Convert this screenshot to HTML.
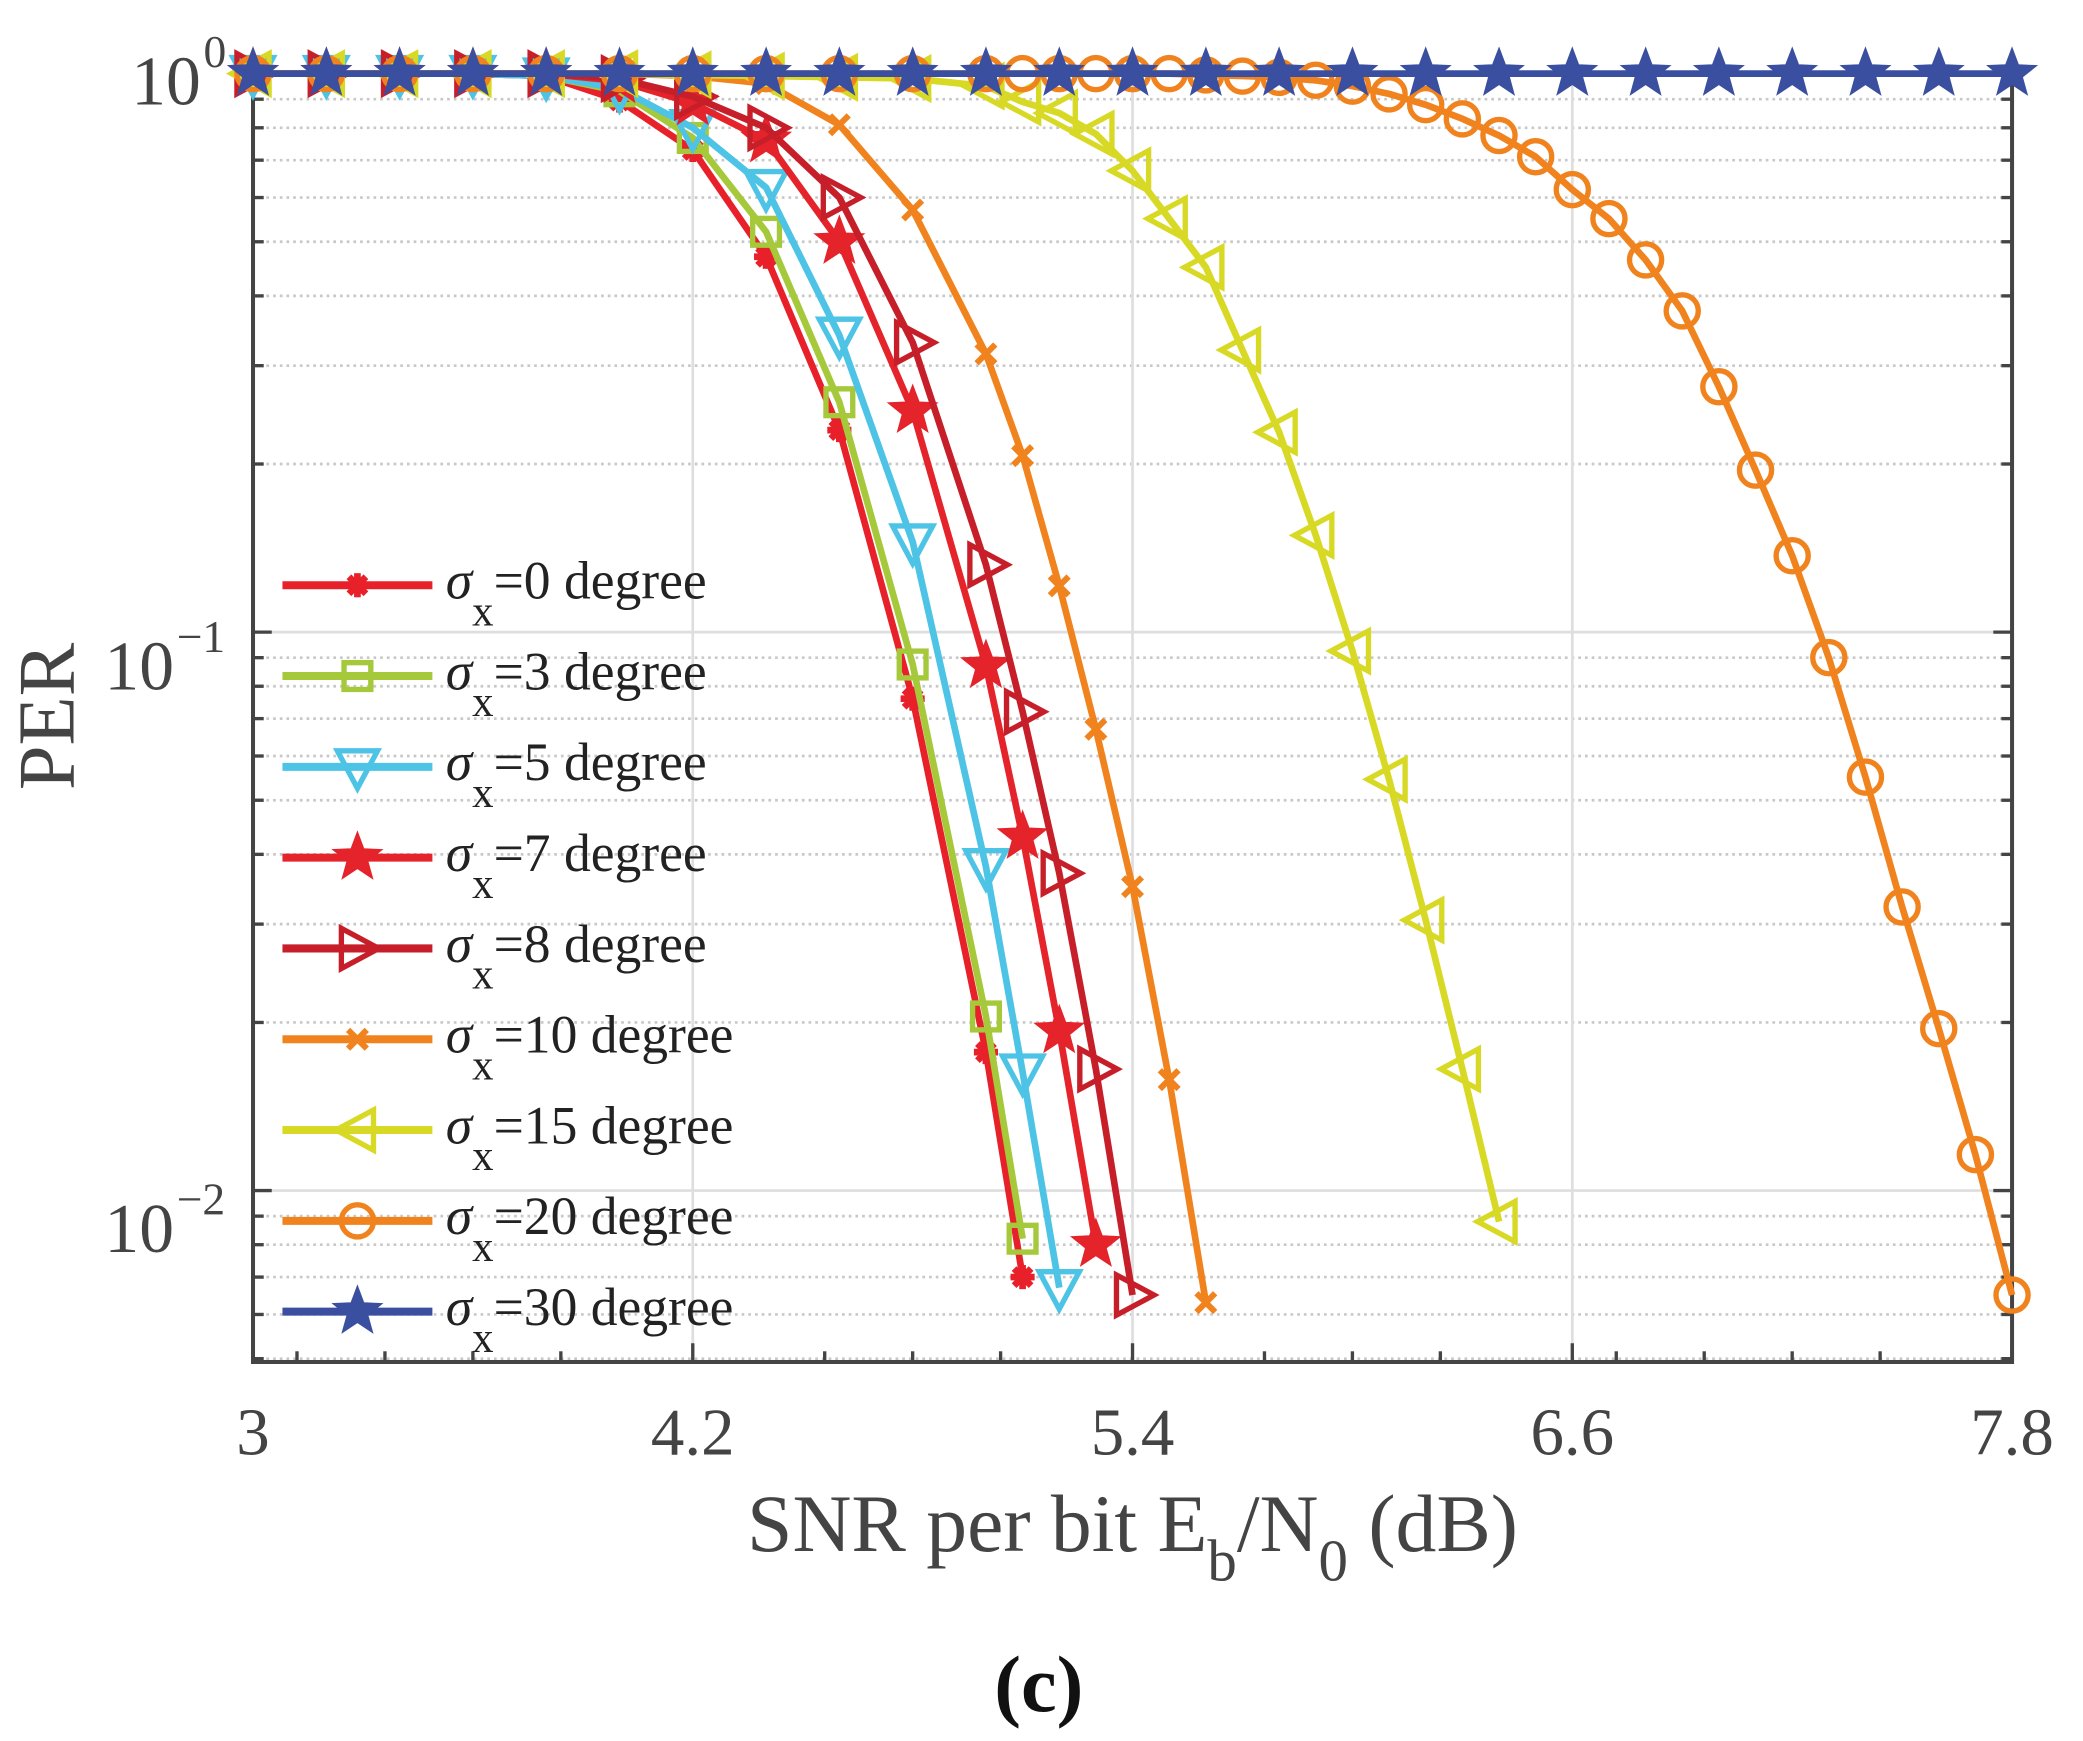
<!DOCTYPE html>
<html><head><meta charset="utf-8"><style>
html,body{margin:0;padding:0;background:#fff;}
svg{display:block;}
text{font-family:"Liberation Serif",serif;}
</style></head><body>
<svg id="chart" width="2083" height="1741" viewBox="0 0 1556 1300" preserveAspectRatio="none" xmlns="http://www.w3.org/2000/svg">
<g id="grid"></g>
<g id="axes"></g>
<g id="series"></g>
<g id="legend"></g>
<text x="0" y="0" transform="translate(55,535) rotate(-90)" text-anchor="middle" font-size="60" fill="#444">PER</text>
<text x="846" y="1158" text-anchor="middle" font-size="61" fill="#444">SNR per bit E<tspan font-size="44" dy="22">b</tspan><tspan dy="-22">/N</tspan><tspan font-size="44" dy="22">0</tspan><tspan dy="-22"> (dB)</tspan></text>
<text x="776" y="1278" text-anchor="middle" font-size="60" font-weight="bold" fill="#111">(c)</text>
</svg>
<script>
const xTicks=[3,4.2,5.4,6.6,7.8];
const xTickLabels=["3","4.2","5.4","6.6","7.8"];
const xMinor=[3.12,3.36,3.6,3.84,4.56,4.8,5.04,5.76,6.0,6.24,6.72,6.96,7.2,7.44];
const legendNums=["0","3","5","7","8","10","15","20","30"];
const x0=[3,3.2,3.4,3.6,3.8,4,4.2,4.4,4.6,4.8,5,5.1];
const y0=[1,1,1,1,0.99,0.895,0.73,0.47,0.23,0.076,0.0177,0.007];
const x3=[3,3.2,3.4,3.6,3.8,4,4.2,4.4,4.6,4.8,5,5.1];
const y3=[1,1,1,1,0.99,0.93,0.767,0.521,0.258,0.0875,0.0205,0.0082];
const x5=[3,3.2,3.4,3.6,3.8,4,4.2,4.4,4.6,4.8,5,5.1,5.2];
const y5=[1,1,1,1,0.99,0.94,0.80,0.625,0.34,0.145,0.038,0.0163,0.0067];
const x7=[3,3.2,3.4,3.6,3.8,4,4.2,4.4,4.6,4.8,5,5.1,5.2,5.3];
const y7=[1,1,1,1,1,0.97,0.885,0.76,0.5,0.249,0.087,0.043,0.0193,0.008];
const x8=[3,3.2,3.4,3.6,3.8,4,4.2,4.4,4.6,4.8,5,5.1,5.2,5.3,5.4];
const y8=[1,1,1,1,1,0.98,0.91,0.80,0.6,0.33,0.132,0.072,0.037,0.0165,0.0065];
const x10=[3,3.2,3.4,3.6,3.8,4,4.2,4.4,4.6,4.8,5,5.1,5.2,5.3,5.4,5.5,5.6];
const y10=[1,1,1,1,1,1,0.99,0.96,0.81,0.57,0.315,0.207,0.121,0.067,0.035,0.0158,0.0063];
const x15=[3,3.2,3.4,3.6,3.8,4,4.2,4.4,4.6,4.8,5,5.1,5.2,5.3,5.4,5.5,5.6,5.7,5.8,5.9,6,6.1,6.2,6.3,6.4];
const y15=[1,1,1,1,1,1,0.995,0.99,0.985,0.98,0.95,0.89,0.85,0.78,0.67,0.55,0.45,0.32,0.228,0.149,0.0925,0.0545,0.0305,0.0165,0.0088];
const x20=[3,3.2,3.4,3.6,3.8,4,4.2,4.4,4.6,4.8,5,5.1,5.2,5.3,5.4,5.5,5.6,5.7,5.8,5.9,6,6.1,6.2,6.3,6.4,6.5,6.6,6.7,6.8,6.9,7,7.1,7.2,7.3,7.4,7.5,7.6,7.7,7.8];
const y20=[1,1,1,1,1,1,1,1,1,1,1,1,1,1,1,1,0.995,0.99,0.985,0.973,0.95,0.92,0.88,0.83,0.775,0.71,0.62,0.55,0.464,0.376,0.275,0.195,0.137,0.09,0.055,0.0322,0.0195,0.0116,0.0065];
const x30=[3,3.2,3.4,3.6,3.8,4,4.2,4.4,4.6,4.8,5,5.2,5.4,5.6,5.8,6,6.2,6.4,6.6,6.8,7,7.2,7.4,7.6,7.8];
const y30=[1,1,1,1,1,1,1,1,1,1,1,1,1,1,1,1,1,1,1,1,1,1,1,1,1];

const L=189,R=1503,T=55,B=1017,DEC=417;
const NS="http://www.w3.org/2000/svg";
function xs(v){return L+(v-3)/4.8*(R-L);}
function ys(v){return T-Math.log10(v)*DEC;}
function mk(tag,attrs,parent){const e=document.createElementNS(NS,tag);for(const k in attrs)e.setAttribute(k,attrs[k]);parent.appendChild(e);return e;}
const grid=document.getElementById('grid'),axes=document.getElementById('axes'),ser=document.getElementById('series'),leg=document.getElementById('legend');

for(let d=0;d>=-3;d--){
  for(let m=1;m<=9;m++){
    const val=m*Math.pow(10,d);
    if(d===0&&m>1)continue;
    const y=ys(val);
    if(y<T-1||y>B)continue;
    const isMajor=(m===1);
    const g=mk('line',{x1:L,x2:R,y1:y,y2:y,stroke:isMajor?'#dedede':'#c8c8c8','stroke-width':2,'stroke-dasharray':isMajor?'none':'2,3'},grid);
    
    
    const t1=mk('line',{x1:L,x2:L+(isMajor?14:8),y1:y,y2:y,stroke:'#444','stroke-width':2.5},axes);
    
    
    const t2=mk('line',{x1:R,x2:R-(isMajor?14:8),y1:y,y2:y,stroke:'#444','stroke-width':2.5},axes);
    
    
  }
}
xTicks.forEach((v,i)=>{
  const x=xs(v);
  if(i>0&&i<xTicks.length-1){
    const g=mk('line',{x1:x,x2:x,y1:T,y2:B,stroke:'#dedede','stroke-width':2},grid);
    
    
  }
  const tk=mk('line',{x1:x,x2:x,y1:B,y2:B-14,stroke:'#444','stroke-width':2.5},axes);
  
  
  const tt=mk('text',{x:x,y:1086,'text-anchor':'middle','font-size':50,fill:'#444'},axes);
  tt.textContent=xTickLabels[i];
  
  
});
xMinor.forEach(v=>{
  const x=xs(v);
  const tk=mk('line',{x1:x,x2:x,y1:B,y2:B-8,stroke:'#444','stroke-width':2.5},axes);
  
  
});
const fr=mk('rect',{x:L,y:T,width:R-L,height:B-T,fill:'none',stroke:'#444','stroke-width':3},axes);


[[0,"0",150,78],[-1,"−1",130,515],[-2,"−2",130,935]].forEach(([d,s,xe,yb])=>{
  const t=mk('text',{x:xe,y:yb,'text-anchor':'end','font-size':52,fill:'#444'},axes);
  t.textContent='10';
  
  
  const e=mk('text',{x:xe+2,y:yb-28,'text-anchor':'start','font-size':34,fill:'#444'},axes);
  e.textContent=s;
  
  
});

function marker(type,cx,cy,color,parent){
  const g=mk('g',{},parent);
  const sw=4;
  if(type==='ast'){
    for(let a=0;a<4;a++){const an=a*Math.PI/4;mk('line',{x1:cx-9*Math.cos(an),y1:cy-9*Math.sin(an),x2:cx+9*Math.cos(an),y2:cy+9*Math.sin(an),stroke:color,'stroke-width':5},g);}
  }else if(type==='sq'){
    mk('rect',{x:cx-10,y:cy-10,width:20,height:20,fill:'none',stroke:color,'stroke-width':sw},g);
  }else if(type==='dn'){
    mk('polygon',{points:`${cx-15},${cy-12} ${cx+15},${cy-12} ${cx},${cy+16}`,fill:'none',stroke:color,'stroke-width':sw},g);
  }else if(type==='rt'){
    mk('polygon',{points:`${cx-12},${cy-15} ${cx-12},${cy+15} ${cx+16},${cy}`,fill:'none',stroke:color,'stroke-width':sw},g);
  }else if(type==='lt'){
    mk('polygon',{points:`${cx+12},${cy-15} ${cx+12},${cy+15} ${cx-16},${cy}`,fill:'none',stroke:color,'stroke-width':sw},g);
  }else if(type==='x'){
    mk('line',{x1:cx-7,y1:cy-7,x2:cx+7,y2:cy+7,stroke:color,'stroke-width':4.5},g);
    mk('line',{x1:cx-7,y1:cy+7,x2:cx+7,y2:cy-7,stroke:color,'stroke-width':4.5},g);
  }else if(type==='o'){
    mk('circle',{cx:cx,cy:cy,r:12,fill:'none',stroke:color,'stroke-width':sw},g);
  }else if(type==='star'){
    let p=[];for(let i=0;i<10;i++){const r=i%2?8:19;const an=-Math.PI/2+i*Math.PI/5;p.push((cx+r*Math.cos(an)).toFixed(1)+','+(cy+r*Math.sin(an)).toFixed(1));}
    mk('polygon',{points:p.join(' '),fill:color,stroke:color,'stroke-width':1},g);
  }
  return g;
}
const defs=[
 [x0,y0,'#e8202a','ast'],[x3,y3,'#a5c93a','sq'],[x5,y5,'#4dc3e6','dn'],[x7,y7,'#e5232b','star'],
 [x8,y8,'#c71f2a','rt'],[x10,y10,'#f0831e','x'],[x15,y15,'#d8d924','lt'],[x20,y20,'#f0831e','o'],[x30,y30,'#3a4fa0','star']];
defs.forEach((d,i)=>{
  const [xa,ya,c,m]=d;
  const g=mk('g',{},ser);
  
  
  const pts=xa.map((v,j)=>xs(v).toFixed(1)+','+ys(ya[j]).toFixed(1)).join(' ');
  const pl=mk('polyline',{points:pts,fill:'none',stroke:c,'stroke-width':5,'stroke-linejoin':'round'},g);
  
  
  xa.forEach((v,j)=>{
    const mm=marker(m,xs(v),ys(ya[j]),c,g);
    
    
  });
  const ly=437+i*67.8;
  const le=mk('g',{},leg);
  
  
  mk('line',{x1:211,x2:323,y1:ly,y2:ly,stroke:c,'stroke-width':6},le);
  marker(m,267,ly,c,le);
  const t=mk('text',{x:333,y:ly+10,'font-size':40,fill:'#222'},le);
  t.innerHTML='<tspan font-style="italic">σ</tspan><tspan font-size="32" dy="20">x</tspan><tspan dy="-20">='+legendNums[i]+' degree</tspan>';
});
</script>
</body></html>
